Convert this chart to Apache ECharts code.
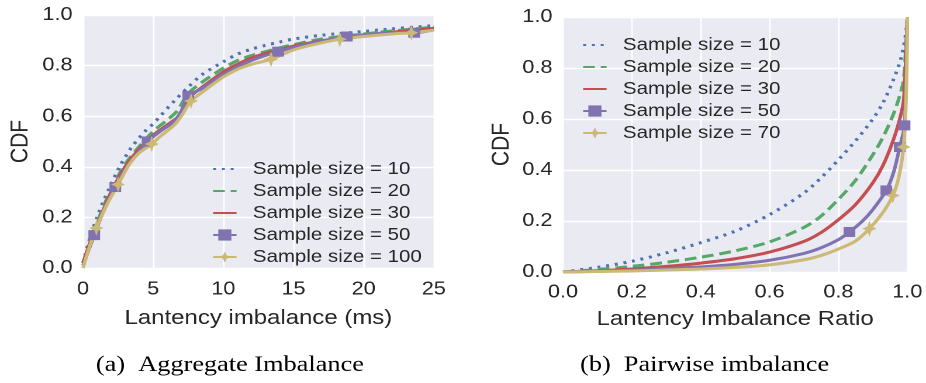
<!DOCTYPE html>
<html>
<head>
<meta charset="utf-8">
<script src="https://cdn.jsdelivr.net/npm/echarts@6/dist/echarts.min.js"></script>
<style>
  html, body { margin: 0; padding: 0; background: #fff; overflow: hidden; }
  #wrap { width: 926px; height: 383px; overflow: hidden; }
  /* the figure is drawn narrower and widened, as in the printed paper */
  #chart { width: 792px; height: 383px; transform: scaleX(1.16919); transform-origin: 0 0; }
</style>
</head>
<body>
<div id="wrap"><div id="chart"></div></div>
<script>
// ---- series names -------------------------------------------------------
const aggNames  = ['Sample size = 10', 'Sample size = 20', 'Sample size = 30', 'Sample size = 50', 'Sample size = 100'];
const pairNames = ['Sample size = 10', 'Sample size = 20', 'Sample size = 30', 'Sample size = 50', 'Sample size = 70'];

// ---- (a) aggregate imbalance: CDF of latency imbalance (ms) -------------
const agg10 = [[0,0.02],[0.5,0.12],[1,0.2],[1.5,0.27],[2,0.33],[2.6,0.4],[3.5,0.48],[4.5,0.545],[5,0.57],[5.5,0.6],[6.5,0.66],[7.5,0.715],[8.5,0.765],[10,0.815],[11,0.845],[12,0.865],[13,0.88],[14,0.893],[15,0.905],[17,0.92],[20,0.935],[22,0.945],[25,0.958]];
const agg20 = [[0,0.02],[0.5,0.1],[1,0.18],[2,0.31],[3,0.41],[4,0.48],[5,0.54],[6,0.585],[6.7,0.62],[7.5,0.69],[8.5,0.735],[10,0.79],[11,0.82],[12,0.84],[13,0.855],[14,0.87],[15,0.883],[17,0.905],[20,0.925],[22,0.937],[25,0.952]];
const agg30 = [[0,0.02],[0.5,0.1],[1,0.17],[2,0.3],[3,0.4],[4,0.47],[5,0.525],[6,0.565],[6.8,0.6],[7.5,0.67],[8.5,0.715],[10,0.775],[11,0.805],[12,0.83],[13,0.848],[14,0.862],[15,0.877],[17,0.898],[20,0.92],[22,0.932],[25,0.947]];
const agg50 = [[0,0.01],[0.8,0.13],[1.5,0.23],[2.3,0.32],[3,0.39],[4,0.46],[4.6,0.5],[5.5,0.54],[6.5,0.58],[7,0.62],[7.5,0.68],[8.5,0.71],[10,0.765],[11,0.795],[12,0.82],[13,0.84],[13.9,0.855],[15,0.872],[17,0.897],[18.8,0.915],[20,0.922],[22,0.93],[23.6,0.93],[25,0.942]];
const agg100 = [[0,0],[0.5,0.09],[0.95,0.158],[1.7,0.25],[2.5,0.33],[3.3,0.41],[4,0.455],[4.9,0.49],[5.5,0.52],[6.5,0.565],[7,0.6],[7.7,0.66],[8.5,0.695],[10,0.755],[11,0.785],[12,0.805],[13.4,0.825],[15,0.862],[17,0.89],[18.3,0.904],[20,0.915],[22,0.925],[23.4,0.93],[25,0.94]];
const agg50Marks  = [[0.8,0.13],[2.3,0.32],[4.6,0.5],[7.5,0.68],[13.9,0.855],[18.8,0.915],[23.6,0.93]];
const agg100Marks = [[0.95,0.158],[2.5,0.33],[4.9,0.49],[7.7,0.66],[13.4,0.825],[18.3,0.904],[23.4,0.93]];

// ---- (b) pairwise imbalance: CDF of latency imbalance ratio -------------
const pair10 = [[0,0],[0.1,0.018],[0.2,0.042],[0.3,0.075],[0.4,0.115],[0.5,0.16],[0.6,0.225],[0.7,0.31],[0.75,0.37],[0.8,0.44],[0.85,0.515],[0.9,0.6],[0.93,0.665],[0.96,0.755],[0.98,0.83],[0.99,0.89],[0.997,0.95],[1,1]];
const pair20 = [[0,0],[0.1,0.01],[0.2,0.022],[0.3,0.038],[0.4,0.058],[0.5,0.083],[0.6,0.118],[0.7,0.175],[0.75,0.22],[0.8,0.285],[0.85,0.36],[0.9,0.46],[0.93,0.53],[0.96,0.62],[0.98,0.7],[0.99,0.76],[1,1]];
const pair30 = [[0,0],[0.1,0.005],[0.2,0.012],[0.3,0.022],[0.4,0.035],[0.5,0.052],[0.6,0.078],[0.7,0.12],[0.75,0.155],[0.8,0.205],[0.85,0.265],[0.9,0.35],[0.93,0.42],[0.96,0.52],[0.98,0.61],[0.99,0.68],[1,1]];
const pair50 = [[0,0],[0.1,0.003],[0.2,0.007],[0.3,0.013],[0.4,0.02],[0.5,0.03],[0.6,0.046],[0.7,0.073],[0.75,0.095],[0.8,0.127],[0.832,0.157],[0.87,0.2],[0.9,0.245],[0.939,0.32],[0.96,0.39],[0.978,0.49],[0.992,0.575],[1,1]];
const pair70 = [[0,0],[0.1,0.002],[0.2,0.004],[0.3,0.008],[0.4,0.012],[0.5,0.018],[0.6,0.028],[0.7,0.048],[0.75,0.065],[0.8,0.09],[0.85,0.122],[0.89,0.17],[0.93,0.235],[0.958,0.3],[0.975,0.37],[0.989,0.49],[0.997,0.7],[1,1]];
const pair50Marks = [[0.832,0.157],[0.939,0.32],[0.978,0.49],[0.992,0.575]];
const pair70Marks = [[0.89,0.17],[0.958,0.3],[0.989,0.49]];

// ---- styling -------------------------------------------------------------
const COLORS = ['#4C72B0', '#55A868', '#C44E52', '#8172B2', '#CCB974'];
const STAR = 'path://M5,0 L6.4,3.6 L10,5 L6.4,6.4 L5,10 L3.6,6.4 L0,5 L3.6,3.6 Z';
const DASHES = [[2.5, 5], [10, 5], 'solid', 'solid', 'solid'];
const SYMBOLS = ['none', 'none', 'none', 'rect', STAR];
const SYMBOL_SIZES = [0, 0, 0, [10, 10], [12, 16]];
const FONT = "'Liberation Sans', Arial, sans-serif";
const SERIF = "'Liberation Serif', 'Times New Roman', serif";
const TEXT = '#262626';

function lineSeries(gridIdx, name, data, i) {
  return {
    type: 'line', name: name, xAxisIndex: gridIdx, yAxisIndex: gridIdx,
    data: data, showSymbol: false, symbol: SYMBOLS[i], symbolSize: SYMBOL_SIZES[i],
    smooth: 0.3, clip: false, silent: true, z: 2 + i,
    lineStyle: { color: COLORS[i], width: 3, type: DASHES[i], join: 'round' },
    itemStyle: { color: COLORS[i] }
  };
}
function markSeries(gridIdx, data, i) {
  return {
    type: 'scatter', xAxisIndex: gridIdx, yAxisIndex: gridIdx, data: data,
    symbol: SYMBOLS[i], symbolSize: SYMBOL_SIZES[i], clip: false, silent: true, z: 8,
    itemStyle: { color: COLORS[i], opacity: 1 }
  };
}

const axisLabel = { color: TEXT, fontSize: 18.5, fontFamily: FONT };
function xAxis(gridIdx, min, max, interval, title, digits, gap, margin) {
  return {
    type: 'value', gridIndex: gridIdx, min: min, max: max, interval: interval,
    name: title, nameLocation: 'middle', nameGap: gap,
    nameTextStyle: { color: TEXT, fontSize: 20.5, fontFamily: FONT },
    axisLine: { show: false }, axisTick: { show: false },
    axisLabel: Object.assign({ margin: margin, formatter: v => v.toFixed(digits) }, axisLabel),
    splitLine: { show: true, lineStyle: { color: '#ffffff', width: 1.4 } }
  };
}
function yAxis(gridIdx, gap) {
  return {
    type: 'value', gridIndex: gridIdx, min: 0, max: 1, interval: 0.2,
    name: 'CDF', nameLocation: 'middle', nameGap: gap, nameRotate: 90,
    nameTextStyle: { color: TEXT, fontSize: 21, fontFamily: FONT },
    axisLine: { show: false }, axisTick: { show: false },
    axisLabel: Object.assign({ margin: 9, formatter: v => v.toFixed(1) }, axisLabel),
    splitLine: { show: true, lineStyle: { color: '#ffffff', width: 1.4 } }
  };
}
function legend(names, left, top) {
  return {
    left: left, top: top, orient: 'vertical', selectedMode: false,
    itemWidth: 20, itemHeight: 14, itemGap: 4, padding: 0,
    textStyle: { color: TEXT, fontSize: 17.5, fontFamily: FONT, padding: [0, 0, 0, 9] },
    data: names.map((n, i) => SYMBOLS[i] === 'none'
      ? { name: n, itemStyle: { opacity: 0 } }
      : { name: n })
  };
}
function caption(text, x) {
  return {
    type: 'text', x: x, y: 365,
    style: { text: text, align: 'center', verticalAlign: 'middle', fontFamily: SERIF, fontSize: 22.5, fill: '#000' }
  };
}

const aggData  = [agg10, agg20, agg30, agg50, agg100];
const pairData = [pair10, pair20, pair30, pair50, pair70];
const series = [];
aggData.forEach((d, i) => series.push(lineSeries(0, aggNames[i], d, i)));
pairData.forEach((d, i) => series.push(lineSeries(1, pairNames[i], d, i)));
series.push(markSeries(0, agg50Marks, 3), markSeries(0, agg100Marks, 4));
series.push(markSeries(1, pair50Marks, 3), markSeries(1, pair70Marks, 4));

const chart = echarts.init(document.getElementById('chart'), null, { renderer: 'canvas', devicePixelRatio: 2 });
chart.setOption({
  animation: false,
  backgroundColor: '#ffffff',
  grid: [
    { left: 71, top: 15, width: 300, height: 253, show: true, backgroundColor: '#EAEAF2', borderWidth: 0 },
    { left: 481.5, top: 17, width: 294.5, height: 255, show: true, backgroundColor: '#EAEAF2', borderWidth: 0 }
  ],
  xAxis: [
    xAxis(0, 0, 25, 5, 'Lantency imbalance (ms)', 0, 40, 12),
    xAxis(1, 0, 1, 0.2, 'Lantency Imbalance Ratio', 1, 37, 11)
  ],
  yAxis: [yAxis(0, 43), yAxis(1, 42)],
  legend: [legend(aggNames, 181.3, 160), legend(pairNames, 497.8, 36)],
  graphic: [
    caption('(a)  Aggregate Imbalance', 196.6),
    caption('(b)  Pairwise imbalance', 602.6)
  ],
  series: series
});
</script>
</body>
</html>
